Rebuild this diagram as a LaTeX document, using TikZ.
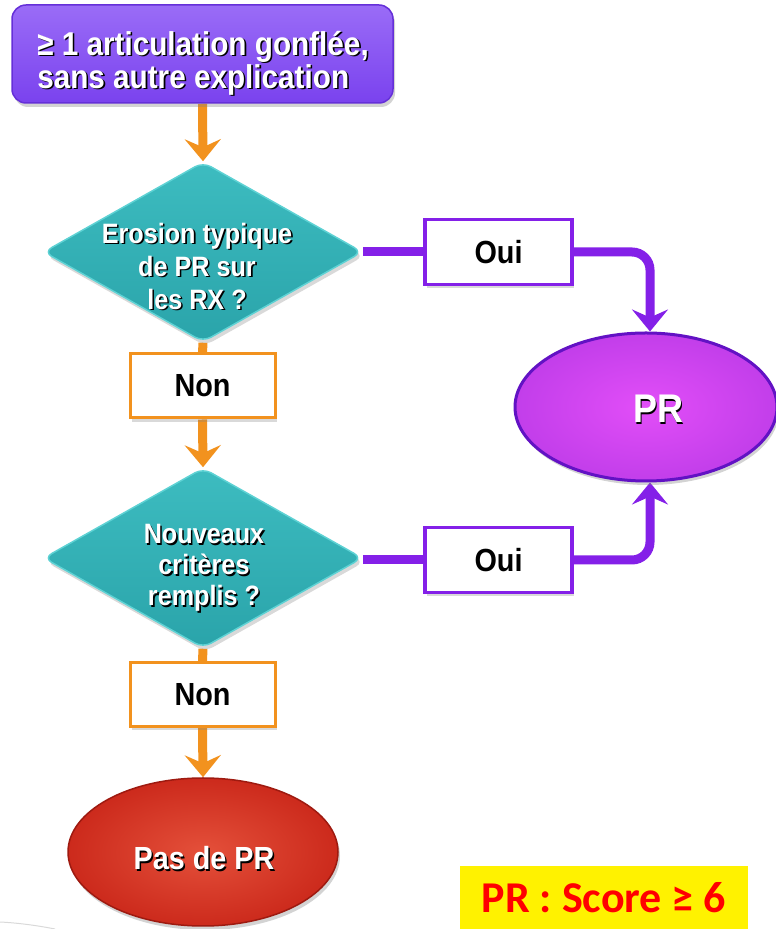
\documentclass[tikz,border=0pt]{standalone}
\usepackage{fontspec}
\setmainfont{Liberation Sans}
\newfontfamily\narrowf[FakeStretch=0.9]{Liberation Sans}
\newfontfamily\calib{Carlito}
\usetikzlibrary{shapes.geometric,arrows.meta,shadows,calc}
\pgfdeclarelayer{bg}
\pgfsetlayers{bg,main}
\definecolor{topA}{HTML}{9A6CF7}
\definecolor{topB}{HTML}{7A42EE}
\definecolor{topE}{HTML}{6530D8}
\definecolor{tealA}{HTML}{3DBCC0}
\definecolor{tealB}{HTML}{2AA4AA}
\definecolor{tealE}{HTML}{5ED2D4}
\definecolor{purp}{HTML}{8420E8}
\definecolor{orng}{HTML}{F2921E}
\definecolor{prIn}{HTML}{E24EF8}
\definecolor{prOut}{HTML}{C23EEA}
\definecolor{prE}{HTML}{6212C4}
\definecolor{redIn}{HTML}{E4503A}
\definecolor{redOut}{HTML}{CC2A1C}
\definecolor{redE}{HTML}{9E1A10}
\newcommand\shd[1]{\leavevmode\rlap{\kern1.6pt\raisebox{-1.6pt}{\color{black}#1}}#1}
\tikzset{
  topbox/.style={rectangle, rounded corners=14pt, minimum width=381pt, minimum height=98pt,
    top color=topA, bottom color=topB, draw=topE, line width=1.5pt,
    drop shadow={opacity=0.35, shadow xshift=2pt, shadow yshift=-4pt}},
  dia/.style={diamond, minimum width=319pt, minimum height=180pt, inner sep=0pt,
    rounded corners=9pt, top color=tealA, bottom color=tealB, draw=tealE, line width=1.5pt,
    drop shadow={opacity=0.3, shadow xshift=2pt, shadow yshift=-4pt}},
  ouibox/.style={rectangle, minimum width=147pt, minimum height=65pt, fill=white,
    draw=purp, line width=3.5pt, font=\narrowf\bfseries\fontsize{32}{35}\selectfont,
    drop shadow={opacity=0.3, shadow xshift=2pt, shadow yshift=-4pt}},
  nonbox/.style={rectangle, minimum width=145pt, minimum height=64pt, fill=white,
    draw=orng, line width=3pt, font=\narrowf\bfseries\fontsize{32}{35}\selectfont,
    drop shadow={opacity=0.3, shadow xshift=2pt, shadow yshift=-4pt}},
  whitetxt/.style={text=white, align=center, inner sep=0pt},
  oline/.style={draw=orng, line width=9pt},
  plinek/.style={draw=purp, line width=9pt},
  otip/.style={-{Stealth[length=22pt, width=36pt, inset=8pt]}},
}
\begin{document}
\begin{tikzpicture}
\useasboundingbox (0,0) rectangle (776pt,929pt);
\begin{scope}[x=1pt,y=1pt]
% decorative swoosh
\draw[gray!30, line width=1pt] (0,7) .. controls (20,6) and (40,3) .. (55,0);

% nodes
\node[topbox] (top) at (202.5,875) {};
\node[whitetxt, align=left, font=\narrowf\bfseries\fontsize{33}{33}\selectfont] (topt) at (203,865) {\shd{≥ 1 articulation gonflée,}\\\shd{sans autre explication}};

\node[dia] (d1) at (203,677) {};
\node[whitetxt, font=\narrowf\bfseries\fontsize{28}{33}\selectfont] (d1t) at (197,662) {\shd{Erosion typique}\\\shd{de PR sur}\\\shd{les RX ?}};

\node[ouibox] (oui1) at (498.5,677) {Oui};
\node[nonbox] (non1) at (202.5,543) {Non};

\node[ellipse, minimum width=262pt, minimum height=148pt, inner color=prIn, outer color=prOut,
  draw=prE, line width=3pt, drop shadow={opacity=0.35, shadow xshift=2pt, shadow yshift=-4pt}] (pr) at (646,522) {};
\node[whitetxt, font=\narrowf\bfseries\fontsize{40}{44}\selectfont] (prt) at (658,519) {\shd{PR}};

\node[dia] (d2) at (203,371) {};
\node[whitetxt, font=\narrowf\bfseries\fontsize{28}{31}\selectfont] (d2t) at (204,360) {\shd{Nouveaux}\\\shd{critères}\\\shd{remplis ?}};

\node[ouibox] (oui2) at (498.5,369) {Oui};
\node[nonbox] (non2) at (202.5,234.5) {Non};

\node[ellipse, minimum width=270pt, minimum height=148pt, inner color=redIn, outer color=redOut,
  draw=redE, line width=1.5pt, drop shadow={opacity=0.35, shadow xshift=2pt, shadow yshift=-4pt}] (red) at (203,77) {};
\node[whitetxt, font=\narrowf\bfseries\fontsize{32}{35}\selectfont] (redt) at (204,70) {\shd{Pas de PR}};

\node[rectangle, fill=yellow, minimum width=288pt, minimum height=63pt, inner sep=0pt,
  text=red, font=\calib\bfseries\fontsize{44}{48}\selectfont] (score) at (604,31.5) {PR : Score ≥ 6};

% connectors (drawn below nodes)
\begin{pgfonlayer}{bg}
\path[oline, otip] (top.south) -- (d1.north);
\path[oline] (d1.south) -- (non1.north);
\path[oline, otip] (non1.south) -- (d2.north);
\path[oline] (d2.south) -- (non2.north);
\path[oline, otip] (non2.south) -- (red.north);

\path[plinek] (d1.east |- oui1.west) -- (oui1.west);
\path[plinek] (d2.east |- oui2.west) -- (oui2.west);
\path[plinek, otip, rounded corners=18pt] (oui1.east) -| ($(pr.north)+(4,0)$);
\path[plinek, otip, rounded corners=18pt] (oui2.east) -| ($(pr.south)+(4,0)$);
\end{pgfonlayer}
\end{scope}
\end{tikzpicture}
\end{document}
